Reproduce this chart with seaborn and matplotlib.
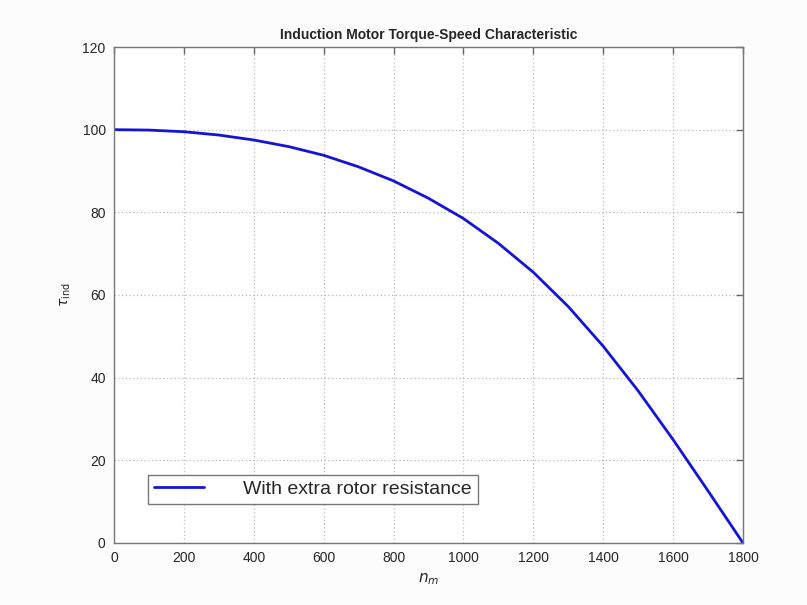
import matplotlib
matplotlib.use("Agg")
import matplotlib.pyplot as plt
import seaborn as sns
import pandas as pd

speed = [0, 100, 200, 300, 400, 500, 600, 700, 800, 900, 1000, 1100, 1200,
         1300, 1400, 1500, 1600, 1700, 1800]
torque = [100.0, 99.9, 99.5, 98.7, 97.5, 95.9, 93.8, 91.0, 87.6, 83.4, 78.5,
          72.5, 65.5, 57.2, 47.6, 36.8, 25.0, 12.6, 0.0]
series_name = "With extra rotor resistance"
xticks = [0, 200, 400, 600, 800, 1000, 1200, 1400, 1600, 1800]
yticks = [0, 20, 40, 60, 80, 100, 120]

sns.set_style("white")
plt.rcParams['font.family'] = ['Liberation Sans', 'DejaVu Sans']

df = pd.DataFrame({"speed": speed, "torque": torque, "series": series_name})

fig = plt.figure(figsize=(8.07, 6.05), dpi=100, facecolor="#fcfcfc")
ax = fig.add_axes([0.1413, 0.1025, 0.7794, 0.8198])
ax.set_facecolor("white")

sns.lineplot(data=df, x="speed", y="torque", hue="series", palette=["#1414d8"],
             linewidth=2, ax=ax)

ax.set_xlim(0, 1800)
ax.set_ylim(0, 120)
ax.set_xticks(xticks)
ax.set_yticks(yticks)
ax.tick_params(direction="in", length=5, width=1, color="#666666",
               labelsize=10, top=True, right=True, pad=6)
for s in ax.spines.values():
    s.set_visible(True)
    s.set_color("#777777")
    s.set_linewidth(1)
ax.grid(True, linestyle=(0, (1, 2)), color="#bbbbbb", linewidth=0.9)

ax.set_title("Induction Motor Torque-Speed Characteristic", fontsize=10,
             fontweight="bold", pad=6)
ax.set_xlabel(r"$\mathit{n}_{\mathit{m}}$", fontsize=11, labelpad=4)
ax.set_ylabel(r"$\tau_{\mathrm{ind}}$", fontsize=10, labelpad=7)

leg = ax.legend(loc="lower left", bbox_to_anchor=(0.054, 0.079), fontsize=14,
                frameon=True, fancybox=False, handlelength=2.6,
                handletextpad=2.0, borderpad=0.3, borderaxespad=0)
leg.get_frame().set_edgecolor("#555555")
leg.get_frame().set_linewidth(1)

fig.savefig("out.png", dpi=100, facecolor=fig.get_facecolor())
